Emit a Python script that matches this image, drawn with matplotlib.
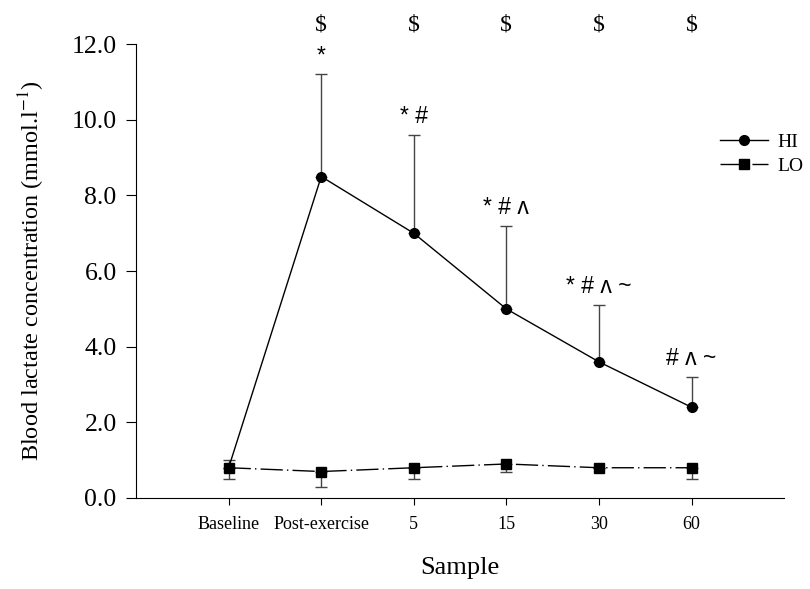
import matplotlib
matplotlib.use("Agg")
import matplotlib.pyplot as plt
import numpy as np

# sampling points
samples = ["Baseline", "Post-exercise", "5", "15", "30", "60"]

# blood lactate, mmol/l (mean and one-sided SD)
hi_mean = [0.8, 8.5, 7.0, 5.0, 3.6, 2.4]
hi_sd = [0.2, 2.7, 2.6, 2.2, 1.5, 0.8]
lo_mean = [0.8, 0.7, 0.8, 0.9, 0.8, 0.8]
lo_sd = [0.3, 0.4, 0.3, 0.2, 0.0, 0.3]

# significance symbols over the HI series
hi_marks = ["", "*", "* #", "* # ʌ", "* # ʌ ~", "# ʌ ~"]
dollar = [False, True, True, True, True, True]

plt.rcParams['font.family'] = ['Liberation Serif', 'DejaVu Serif']
plt.rcParams['mathtext.fontset'] = 'stix'

fig = plt.figure(figsize=(8.10, 5.89), dpi=100)
ax = fig.add_axes([0.168, 0.1545, 0.800, 0.7705])

x = np.arange(1, len(samples) + 1)

ax.errorbar(x, hi_mean, yerr=[np.zeros(len(x)), hi_sd], fmt='none',
            ecolor='#444444', elinewidth=1, capsize=4, capthick=1, zorder=2)
ax.errorbar(x, lo_mean, yerr=[lo_sd, np.zeros(len(x))], fmt='none',
            ecolor='#444444', elinewidth=1, capsize=4, capthick=1, zorder=2)

ax.plot(x, hi_mean, color='black', lw=1, marker='o', ms=7, label='HI', zorder=3)
ax.plot(x, lo_mean, color='black', lw=1, marker='s', ms=7, label='LO',
        dashes=[16, 3, 1, 3], zorder=3)

sym_font = ['Liberation Sans', 'DejaVu Sans']
for xi, m, sd, lab in zip(x, hi_mean, hi_sd, hi_marks):
    if lab:
        ax.text(xi, m + sd + 0.18, lab, ha='center', va='bottom',
                fontsize=16.5, family=sym_font)
for xi, d in zip(x, dollar):
    if d:
        ax.text(xi, 12.5, "$", ha='center', va='center', fontsize=17,
                clip_on=False)

ax.set_xlim(0, 7)
ax.set_ylim(0, 12)
ax.set_yticks(np.arange(0, 12.1, 2))
ax.set_yticklabels(["%.1f" % v for v in np.arange(0, 12.1, 2)], fontsize=18.5)
ax.set_xticks(x)
ax.set_xticklabels(samples, fontsize=13)
ax.tick_params(axis='x', length=5, pad=8)
ax.tick_params(axis='y', length=7, pad=7)
ax.spines['top'].set_visible(False)
ax.spines['right'].set_visible(False)

ax.set_ylabel("Blood lactate concentration (mmol.l$^{-1}$)", fontsize=17.5, labelpad=18)
ax.set_xlabel("Sample", fontsize=19, labelpad=17)

leg = fig.legend(loc='upper right', bbox_to_anchor=(1.002, 0.787), frameon=False,
                 fontsize=14, handlelength=2.5, handletextpad=0.5,
                 labelspacing=0.35, borderaxespad=0)

fig.savefig("out.png", dpi=100)
